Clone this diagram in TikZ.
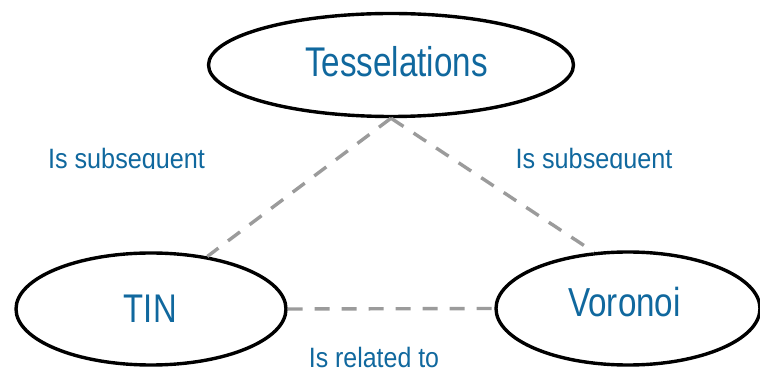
\documentclass[tikz,border=0pt]{standalone}
\usepackage{fontspec}
\usepackage{graphicx}
\setmainfont{Liberation Sans}
\usetikzlibrary{shapes.geometric}
\definecolor{txtblue}{RGB}{16,104,158}
\definecolor{linegray}{RGB}{155,155,155}
\tikzset{
  oval/.style={ellipse, draw=black, line width=3.4pt, inner sep=0pt},
  bigtext/.style={anchor=base, inner sep=0pt, text=txtblue},
  reltext/.style={anchor=base, inner sep=0pt, text=txtblue, font=\fontsize{28}{32}\selectfont},
  relline/.style={draw=linegray, line width=3.4pt, dash pattern=on 15pt off 12pt}
}
\begin{document}
\begin{tikzpicture}[x=1pt,y=1pt]
\useasboundingbox (0,0) rectangle (760,372);
% ellipses
\node[oval, minimum width=365pt, minimum height=103pt] (tes) at (391,307) {};
\node[oval, minimum width=270pt, minimum height=112pt] (tin) at (151,63) {};
\node[oval, minimum width=264pt, minimum height=113pt] (vor) at (628,63.5) {};
% node texts
\node[bigtext, font=\fontsize{41.5}{48}\selectfont] (testxt) at (396.5,295) {\scalebox{0.80}[1]{Tesselations}};
\node[bigtext, font=\fontsize{40}{46}\selectfont] (tintxt) at (150.3,49.3) {\scalebox{0.82}[1]{TIN}};
\node[bigtext, font=\fontsize{40.5}{46}\selectfont] (vortxt) at (624.5,55) {\scalebox{0.82}[1]{Voronoi}};
% connectors
\draw[relline] (tes.south) -- (tin.43);
\draw[relline] (tes.south) -- (vor.121);
\draw[relline] (tin.east) -- (vor.west);
% relation labels
\begin{scope}
\clip (0,203) rectangle (760,372);
\node[reltext] (lab1) at (126.5,203) {\scalebox{0.90}[1]{Is subsequent}};
\node[reltext] (lab2) at (594,203) {\scalebox{0.90}[1]{Is subsequent}};
\end{scope}
\node[reltext] (lab3) at (374,4.5) {\scalebox{0.89}[1]{Is related to}};
\end{tikzpicture}
\end{document}
